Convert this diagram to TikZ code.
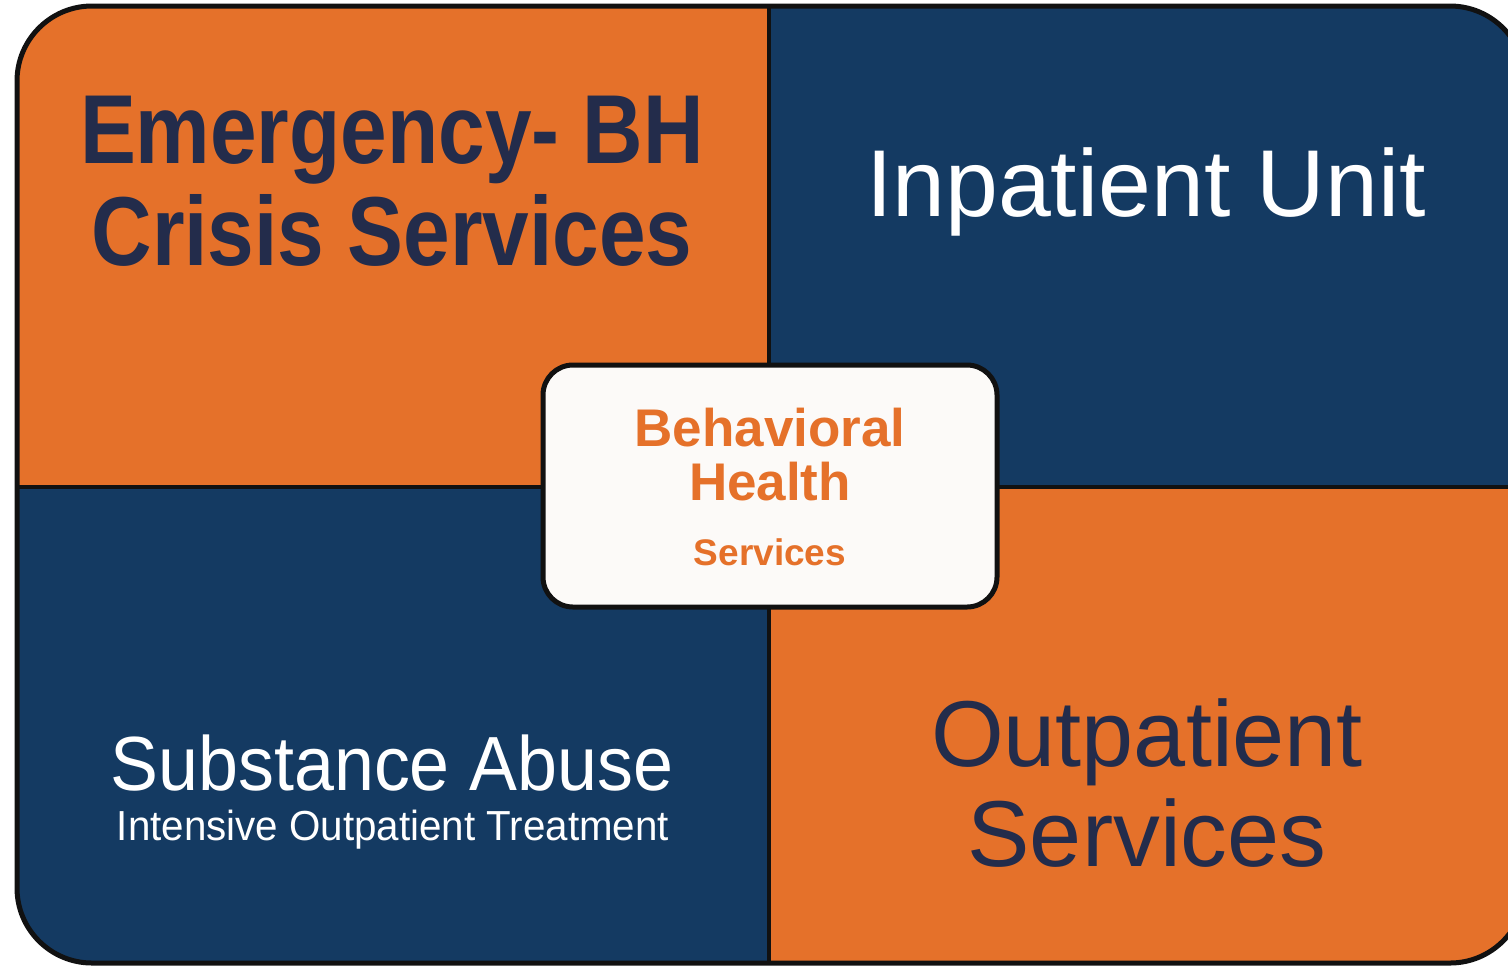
\documentclass[tikz,border=0pt]{standalone}
\usepackage{fontspec}
\setmainfont{Liberation Sans}
\newfontfamily\crisisfont[FakeStretch=0.855]{Liberation Sans}
\newfontfamily\abusefont[FakeStretch=0.935]{Liberation Sans}
\newfontfamily\iopfont[FakeStretch=0.96]{Liberation Sans}
\definecolor{bhorange}{HTML}{E5712A}
\definecolor{bhblue}{HTML}{143A62}
\definecolor{bhnavy}{HTML}{232C4B}
\definecolor{bhwhite}{HTML}{FCFAF8}
\definecolor{bhline}{HTML}{111111}

\begin{document}
\begin{tikzpicture}[x=0.5pt, y=-0.5pt,
    quadtext/.style={anchor=base, inner sep=0pt},
    centerbox/.style={draw=bhline, line width=2.5pt, fill=bhwhite, rounded corners=15pt,
      minimum width=227pt, minimum height=121pt}]
    \useasboundingbox (0,0) rectangle (1508,966);
    \clip (0,0) rectangle (1508,966);

    % 四つの区画
    \begin{scope}
      \clip[rounded corners=37.5pt] (17,6) rectangle (1525,963);
      \fill[bhorange] (17,6) rectangle (769,487);
      \fill[bhblue] (769,6) rectangle (1525,487);
      \fill[bhblue] (17,487) rectangle (769,963);
      \fill[bhorange] (769,487) rectangle (1525,963);
      \draw[bhline, line width=2pt] (769,6) -- (769,963);
      \draw[bhline, line width=2pt] (17,487) -- (1525,487);
    \end{scope}
    \draw[bhline, line width=2.5pt, rounded corners=37.5pt] (17,6) rectangle (1525,963);

    % 中央の箱
    \node[centerbox] (center) at (770,486) {};

    % 各区画のテキスト
    \node[quadtext, text=bhnavy, font=\crisisfont\bfseries\fontsize{49}{49}\selectfont] (emerg) at (392,163) {Emergency- BH};
    \node[quadtext, text=bhnavy, font=\crisisfont\bfseries\fontsize{49}{49}\selectfont] (crisis) at (392,265) {Crisis Services};
    \node[quadtext, text=white, font=\fontsize{47.5}{47.5}\selectfont] (inpatient) at (1146,216) {Inpatient Unit};
    \node[quadtext, text=white, font=\abusefont\fontsize{38.4}{38.4}\selectfont] (abuse) at (392,790) {Substance Abuse};
    \node[quadtext, text=white, font=\iopfont\fontsize{21}{21}\selectfont] (iop) at (393,840) {Intensive Outpatient Treatment};
    \node[quadtext, text=bhnavy, font=\fontsize{46.8}{46.8}\selectfont] (outpat) at (1147,766) {Outpatient};
    \node[quadtext, text=bhnavy, font=\fontsize{46.8}{46.8}\selectfont] (outserv) at (1147,866) {Services};

    % 中央のテキスト
    \node[quadtext, text=bhorange, font=\bfseries\fontsize{26.5}{26.5}\selectfont] (behav) at (770,446) {Behavioral};
    \node[quadtext, text=bhorange, font=\bfseries\fontsize{26.5}{26.5}\selectfont] (health) at (770,500) {Health};
    \node[quadtext, text=bhorange, font=\bfseries\fontsize{18.5}{18.5}\selectfont] (bhserv) at (770,565) {Services};
\end{tikzpicture}
\end{document}
